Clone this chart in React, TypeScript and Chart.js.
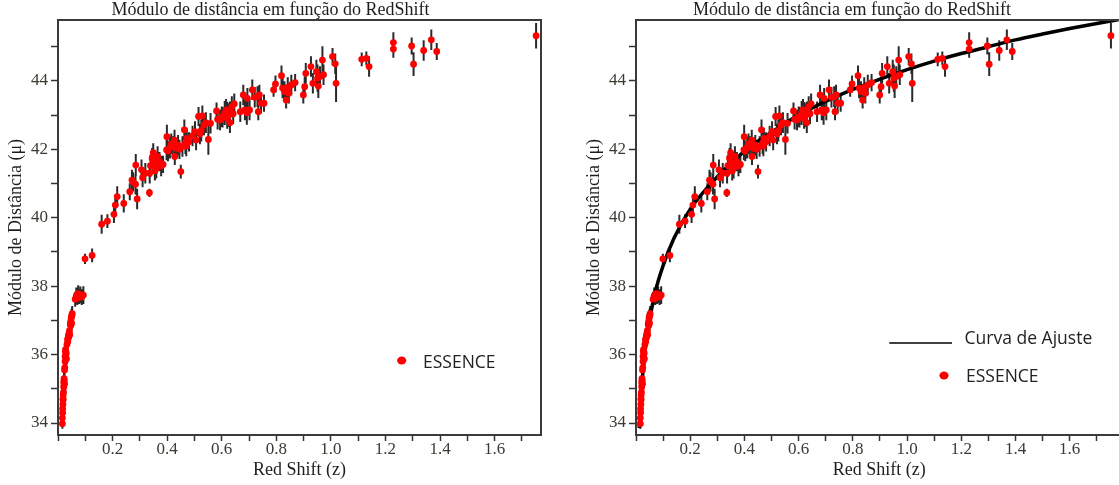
import React, { useEffect, useRef } from 'react';
import { Chart, registerables } from 'chart.js';

Chart.register(...registerables);

// ---------- data ----------
const redshift = [
  0.016, 0.016, 0.017, 0.017, 0.018, 0.018, 0.019, 0.019, 0.020, 0.021, 0.021, 0.022, 0.022, 0.023, 0.024, 0.024,
  0.025, 0.026, 0.026, 0.027, 0.028, 0.028, 0.029, 0.030, 0.031, 0.033, 0.035, 0.036, 0.038, 0.039, 0.040, 0.042,
  0.043, 0.045, 0.046, 0.047, 0.048, 0.049, 0.050, 0.051, 0.052,
  0.063, 0.067, 0.071, 0.074, 0.078, 0.082, 0.087, 0.093,
  0.099, 0.125, 0.160, 0.181, 0.205, 0.210, 0.217, 0.241, 0.263, 0.271, 0.275, 0.284, 0.285, 0.290, 0.306, 0.310,
  0.320, 0.335, 0.336, 0.339, 0.345, 0.349, 0.350, 0.355, 0.360, 0.361, 0.365, 0.372, 0.378, 0.385, 0.398, 0.399,
  0.403, 0.410, 0.415, 0.420, 0.427, 0.428, 0.434, 0.440, 0.445, 0.450, 0.456, 0.463, 0.467, 0.470, 0.472, 0.480,
  0.493, 0.502, 0.506, 0.515, 0.520, 0.525, 0.529, 0.535, 0.542, 0.551, 0.559, 0.581, 0.585, 0.594, 0.600, 0.603,
  0.611, 0.616, 0.620, 0.620, 0.627, 0.630, 0.630, 0.637, 0.642, 0.646, 0.668, 0.679, 0.685, 0.692, 0.694, 0.702,
  0.712, 0.721, 0.731, 0.734, 0.738, 0.744, 0.755, 0.790, 0.797, 0.819, 0.823, 0.830, 0.836, 0.842, 0.846, 0.855,
  0.869, 0.899, 0.904, 0.908, 0.927, 0.934, 0.947, 0.951, 0.954, 0.960, 0.969, 0.973, 1.006, 1.016, 1.019, 1.113,
  1.130, 1.140, 1.229, 1.229, 1.296, 1.303, 1.340, 1.368, 1.388, 1.752,
];

const distanceModulus = [
  33.98, 34.15, 34.30, 34.42, 34.55, 34.70, 34.82, 34.68, 34.90, 35.05, 35.20, 35.30, 35.12, 35.25, 35.15, 35.55,
  35.62, 35.80, 35.95, 36.10, 35.90, 36.15, 36.02, 36.05, 35.88, 36.30, 36.45, 36.38, 36.55, 36.50, 36.62, 36.70,
  36.58, 36.88, 36.95, 36.85, 37.05, 37.10, 36.92, 37.15, 37.20,
  37.62, 37.72, 37.65, 37.78, 37.70, 37.75, 37.68, 37.74,
  38.80, 38.90, 39.81, 39.90, 40.10, 40.37, 40.62, 40.42, 40.76, 41.10, 41.05, 40.98, 41.54, 40.55, 41.40, 41.17,
  41.30, 40.73, 41.30, 41.52, 41.74, 41.90, 41.62, 41.37, 41.45, 41.59, 41.79, 41.64, 41.51, 41.56, 41.98, 42.37,
  41.95, 42.05, 42.16, 42.08, 42.27, 41.79, 42.03, 42.12, 42.00, 41.35, 42.08, 42.57, 42.18, 42.10, 42.32, 42.22,
  42.39, 42.52, 42.27, 42.96, 42.45, 42.55, 42.98, 42.71, 42.78, 42.29, 42.76, 43.12, 42.88, 42.86, 42.95, 42.94,
  43.06, 43.15, 42.90, 43.08, 43.00, 42.78, 43.10, 43.25, 43.04, 43.33, 43.10, 43.59, 43.15, 43.07, 43.49, 43.15,
  43.74, 43.52, 43.54, 43.10, 43.59, 43.35, 43.35, 43.74, 43.91, 44.15, 43.79, 43.69, 43.44, 43.81, 43.64, 43.88,
  43.95, 43.59, 43.83, 44.22, 44.42, 43.93, 44.27, 44.08, 43.85, 44.13, 44.61, 44.18, 44.71, 44.50, 43.93, 44.63,
  44.66, 44.42, 45.12, 44.93, 45.02, 44.49, 44.89, 45.20, 44.86, 45.32,
];

const distanceError = [
  0.15, 0.15, 0.16, 0.15, 0.17, 0.16, 0.15, 0.16, 0.17, 0.16, 0.18, 0.17, 0.16, 0.18, 0.17, 0.18,
  0.17, 0.18, 0.19, 0.18, 0.17, 0.19, 0.18, 0.20, 0.18, 0.19, 0.20, 0.18, 0.20, 0.19, 0.20, 0.21,
  0.20, 0.21, 0.20, 0.22, 0.21, 0.22, 0.20, 0.22, 0.22,
  0.22, 0.24, 0.20, 0.25, 0.22, 0.24, 0.23, 0.26,
  0.15, 0.20, 0.28, 0.20, 0.25, 0.28, 0.30, 0.27, 0.25, 0.30, 0.28, 0.30, 0.32, 0.30, 0.30, 0.28,
  0.30, 0.12, 0.30, 0.32, 0.30, 0.28, 0.30, 0.28, 0.30, 0.30, 0.30, 0.28, 0.30, 0.25, 0.30, 0.35,
  0.30, 0.32, 0.30, 0.30, 0.30, 0.25, 0.30, 0.30, 0.28, 0.20, 0.30, 0.30, 0.32, 0.30, 0.30, 0.28,
  0.30, 0.30, 0.30, 0.28, 0.30, 0.32, 0.30, 0.30, 0.30, 0.45, 0.30, 0.25, 0.30, 0.30, 0.30, 0.30,
  0.35, 0.32, 0.30, 0.30, 0.35, 0.30, 0.30, 0.30, 0.30, 0.30, 0.30, 0.30, 0.30, 0.35, 0.30, 0.30,
  0.30, 0.30, 0.30, 0.25, 0.30, 0.30, 0.25, 0.20, 0.25, 0.30, 0.30, 0.30, 0.25, 0.30, 0.30, 0.30,
  0.25, 0.25, 0.30, 0.30, 0.30, 0.30, 0.35, 0.40, 0.35, 0.30, 0.40, 0.30, 0.25, 0.30, 0.55, 0.20,
  0.20, 0.30, 0.30, 0.25, 0.25, 0.35, 0.30, 0.30, 0.25, 0.37,
];

// fitted curve, read along the black line of the right panel
const fitRedshift = [0.012, 0.02, 0.03, 0.04, 0.05, 0.07, 0.1, 0.14, 0.2, 0.3, 0.4, 0.5, 0.6, 0.7, 0.8, 0.9, 1.0, 1.1, 1.2, 1.3, 1.4, 1.5, 1.6, 1.7, 1.8];
const fitDistanceModulus = [33.85, 34.95, 35.85, 36.5, 37.0, 37.8, 38.6, 39.4, 40.25, 41.2, 41.95, 42.5, 43.0, 43.4, 43.75, 44.05, 44.33, 44.58, 44.8, 45.0, 45.2, 45.37, 45.53, 45.68, 45.82];

const xTickValues = [0, 0.1, 0.2, 0.3, 0.4, 0.5, 0.6, 0.7, 0.8, 0.9, 1.0, 1.1, 1.2, 1.3, 1.4, 1.5, 1.6, 1.7];
const xTickLabels = ['0.2', '0.4', '0.6', '0.8', '1.0', '1.2', '1.4', '1.6'];
const yTickValues = [34, 35, 36, 37, 38, 39, 40, 41, 42, 43, 44, 45];
const yTickLabels = ['34', '36', '38', '40', '42', '44'];

const TITLE = 'Módulo de distância em função do RedShift';
const X_TITLE = 'Red Shift (z)';
const Y_TITLE = 'Módulo de Distância (μ)';
const SERIES_LABEL = 'ESSENCE';
const FIT_LABEL = 'Curva de Ajuste';

const SERIF = '"Liberation Serif", "Times New Roman", Times, serif';
const SANS = '"Open Sans", "Noto Sans", sans-serif';
const TEXT_COLOR = '#1e1e1e';
const TICK_COLOR = '#3b3a32';

const errorBarsPlugin = {
  id: 'errorBars',
  beforeDatasetsDraw(chart: any) {
    const { ctx, chartArea, scales } = chart;
    const xs = scales.x;
    const ys = scales.y;
    ctx.save();
    ctx.beginPath();
    ctx.rect(chartArea.left, chartArea.top, chartArea.right - chartArea.left, chartArea.bottom - chartArea.top);
    ctx.clip();
    ctx.strokeStyle = '#2a2a2a';
    ctx.lineWidth = 2;
    ctx.beginPath();
    for (let i = 0; i < redshift.length; i++) {
      const x = xs.getPixelForValue(redshift[i]);
      ctx.moveTo(x, ys.getPixelForValue(distanceModulus[i] - distanceError[i]));
      ctx.lineTo(x, ys.getPixelForValue(distanceModulus[i] + distanceError[i]));
    }
    ctx.stroke();
    ctx.restore();
  },
};

const framePlugin = {
  id: 'frame',
  afterDraw(chart: any) {
    const { ctx, chartArea } = chart;
    ctx.save();
    ctx.strokeStyle = '#3a3a3a';
    ctx.lineWidth = 2;
    ctx.strokeRect(chartArea.left, chartArea.top, chartArea.right - chartArea.left, chartArea.bottom - chartArea.top);
    ctx.restore();
  },
};

type LegendSpec = {
  fitLine?: { x1: number; x2: number; y: number; textX: number; baseline: number };
  dot: { x: number; y: number; textX: number; baseline: number };
};

function makeLegendPlugin(spec: LegendSpec) {
  return {
    id: 'panelLegend',
    afterDraw(chart: any) {
      const { ctx } = chart;
      ctx.save();
      ctx.font = `17.5px ${SANS}`;
      ctx.fillStyle = '#222';
      ctx.textAlign = 'left';
      ctx.textBaseline = 'alphabetic';
      if (spec.fitLine) {
        const f = spec.fitLine;
        ctx.strokeStyle = '#000';
        ctx.lineWidth = 1.5;
        ctx.beginPath();
        ctx.moveTo(f.x1, f.y);
        ctx.lineTo(f.x2, f.y);
        ctx.stroke();
        ctx.fillText(FIT_LABEL, f.textX, f.baseline);
      }
      const d = spec.dot;
      ctx.fillStyle = '#ff0000';
      ctx.beginPath();
      ctx.ellipse(d.x, d.y, 4.6, 4.0, 0, 0, Math.PI * 2);
      ctx.fill();
      ctx.fillStyle = '#222';
      ctx.fillText(SERIES_LABEL, d.textX, d.baseline);
      ctx.restore();
    },
  };
}

type PanelProps = {
  left: number;
  width: number;
  padRight: number;
  xMax: number;
  withFit: boolean;
  legend: LegendSpec;
};

function Panel({ left, width, padRight, xMax, withFit, legend }: PanelProps) {
  const ref = useRef<HTMLCanvasElement | null>(null);

  useEffect(() => {
    if (!ref.current) return;
    const points = redshift.map((z, i) => ({ x: z, y: distanceModulus[i] }));
    const fit = fitRedshift.map((z, i) => ({ x: z, y: fitDistanceModulus[i] }));
    const datasets: any[] = [
      {
        type: 'scatter',
        label: SERIES_LABEL,
        data: points,
        pointRadius: 3.4,
        pointHoverRadius: 3.4,
        backgroundColor: '#ff0000',
        borderWidth: 0,
        order: 0,
      },
    ];
    if (withFit) {
      datasets.push({
        type: 'line',
        label: FIT_LABEL,
        data: fit,
        borderColor: '#000000',
        borderWidth: 3.5,
        pointRadius: 0,
        fill: false,
        showLine: true,
        cubicInterpolationMode: 'monotone',
        order: 1,
      });
    }

    const chart = new Chart(ref.current, {
      type: 'scatter',
      data: { datasets },
      options: {
        animation: false,
        responsive: false,
        devicePixelRatio: 1,
        events: [],
        layout: { padding: { left: 0, right: padRight, top: 0, bottom: 0 } },
        plugins: {
          legend: { display: false },
          tooltip: { enabled: false },
          title: {
            display: true,
            text: TITLE,
            color: TEXT_COLOR,
            font: { family: SERIF, size: 18, weight: 'normal', lineHeight: 1 },
            padding: { top: 1, bottom: 1 },
          },
        },
        scales: {
          x: {
            type: 'linear',
            min: 0,
            max: xMax,
            afterFit: (s: any) => {
              s.height = 50;
            },
            afterBuildTicks: (s: any) => {
              s.ticks = xTickValues.filter((v) => v <= xMax).map((v) => ({ value: v }));
            },
            ticks: {
              autoSkip: false,
              maxRotation: 0,
              minRotation: 0,
              padding: 0,
              color: TICK_COLOR,
              font: { family: SERIF, size: 17, lineHeight: 1 },
              callback: (v: any) => {
                const s = (Math.round(Number(v) * 10) / 10).toFixed(1);
                return xTickLabels.includes(s) ? s : '';
              },
            },
            grid: {
              display: true,
              drawOnChartArea: false,
              drawTicks: true,
              tickLength: 6,
              tickColor: '#333',
              tickWidth: 1.5,
            },
            border: { display: false },
            title: {
              display: true,
              text: X_TITLE,
              color: TEXT_COLOR,
              font: { family: SERIF, size: 18 },
              padding: { top: 0, bottom: 4 },
            },
          },
          y: {
            type: 'linear',
            min: 33.65,
            max: 45.78,
            afterFit: (s: any) => {
              s.width = 58;
            },
            afterBuildTicks: (s: any) => {
              s.ticks = yTickValues.map((v) => ({ value: v }));
            },
            ticks: {
              autoSkip: false,
              padding: 3,
              color: TICK_COLOR,
              font: { family: SERIF, size: 17 },
              callback: (v: any) => {
                const s = String(Math.round(Number(v)));
                return yTickLabels.includes(s) ? s : '';
              },
            },
            grid: {
              display: true,
              drawOnChartArea: false,
              drawTicks: true,
              tickLength: 7,
              tickColor: '#333',
              tickWidth: 1.5,
            },
            border: { display: false },
            title: {
              display: true,
              text: Y_TITLE,
              color: TEXT_COLOR,
              font: { family: SERIF, size: 18 },
              padding: { top: 5, bottom: 0 },
            },
          },
        },
      } as any,
      plugins: [errorBarsPlugin, framePlugin, makeLegendPlugin(legend)],
    });
    return () => chart.destroy();
  }, []);

  return (
    <canvas
      ref={ref}
      width={width}
      height={485}
      style={{ position: 'absolute', left, top: 0, width, height: 485, display: 'block' }}
    />
  );
}

export default function App() {
  return (
    <div
      style={{
        position: 'fixed',
        left: 0,
        top: 0,
        width: 1119,
        height: 485,
        overflow: 'hidden',
        background: '#ffffff',
      }}
    >
      <Panel
        left={0}
        width={548}
        padRight={7}
        xMax={1.77}
        withFit={false}
        legend={{ dot: { x: 401.7, y: 360.5, textX: 423, baseline: 367.5 } }}
      />
      <Panel
        left={578}
        width={548}
        padRight={0}
        xMax={1.795}
        withFit={true}
        legend={{
          fitLine: { x1: 311.3, x2: 374, y: 343, textX: 386.6, baseline: 344 },
          dot: { x: 366, y: 375.5, textX: 388, baseline: 381.5 },
        }}
      />
    </div>
  );
}
